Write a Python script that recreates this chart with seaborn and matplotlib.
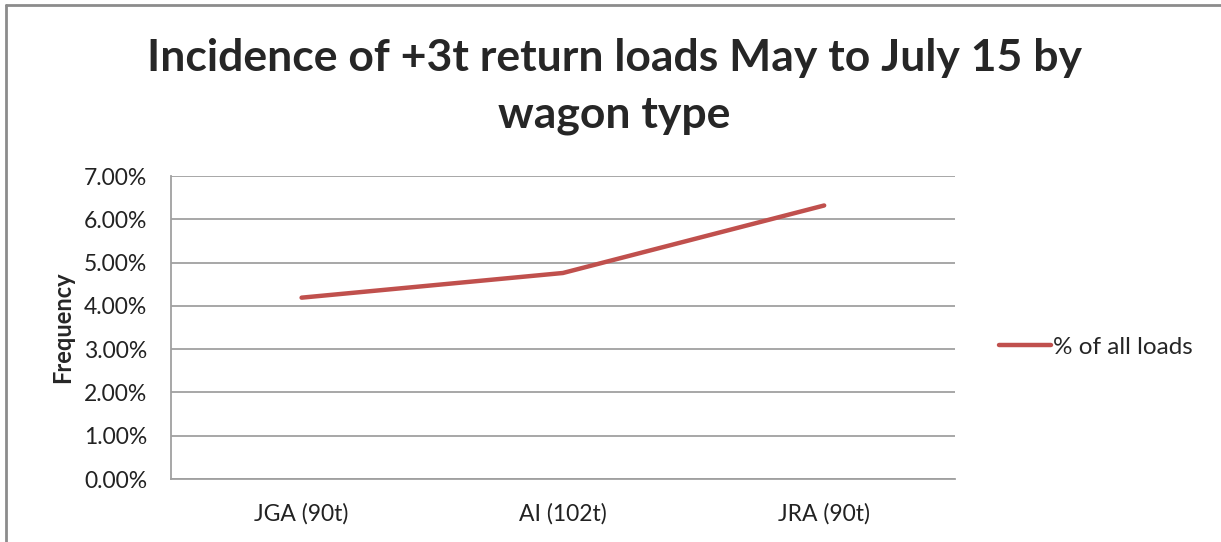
import pandas as pd
import seaborn as sns
import matplotlib.pyplot as plt
from matplotlib.ticker import PercentFormatter
from matplotlib.lines import Line2D

# Data
wagon_types = ['JGA (90t)', 'AI (102t)', 'JRA (90t)']
pct_all_loads = [0.0419, 0.0476, 0.0632]
y_ticks = [0.0, 0.01, 0.02, 0.03, 0.04, 0.05, 0.06, 0.07]

df = pd.DataFrame({'wagon': wagon_types, 'pct': pct_all_loads})

sns.set_style('white')
plt.rcParams['font.family'] = ['Lato', 'DejaVu Sans']

fig = plt.figure(figsize=(12.21, 5.42), dpi=100)
ax = fig.add_axes([0.140, 0.1162, 0.642, 0.559])

sns.lineplot(data=df, x='wagon', y='pct', color='#C0504D', lw=3.2,
             ax=ax, label='% of all loads', legend=False)

ax.set_xlim(-0.5, 2.5)
ax.set_ylim(0, 0.07)
ax.set_yticks(y_ticks)
ax.yaxis.set_major_formatter(PercentFormatter(1.0, decimals=2))
ax.grid(axis='y', color='#A0A0A0', lw=1.3)
ax.set_axisbelow(True)
for s in ['top', 'right']:
    ax.spines[s].set_visible(False)
for s in ['left', 'bottom']:
    ax.spines[s].set_color('#A0A0A0')
    ax.spines[s].set_linewidth(1.3)
ax.tick_params(axis='both', length=0, labelsize=16.5, colors='#222222')
ax.tick_params(axis='y', pad=17)
ax.tick_params(axis='x', pad=17, labelsize=16.5)
ax.set_xlabel('')
ax.set_ylabel('Frequency', fontsize=17, fontweight='bold', labelpad=7)

fig.suptitle('Incidence of +3t return loads May to July 15 by\nwagon type',
             x=0.503, y=0.93, fontsize=32, fontweight='bold', linespacing=1.5)

handle = Line2D([], [], color='#C0504D', lw=3.2)
fig.legend([handle], ['% of all loads'], loc='center left',
           bbox_to_anchor=(0.808, 0.359), frameon=False, fontsize=17.5,
           handlelength=2.15, handletextpad=0.1, borderpad=0)

# chart area border (top and left edge visible)
fig.add_artist(Line2D([0.005, 0.005], [0, 0.991], color='#8C8C8C', lw=2,
                      transform=fig.transFigure))
fig.add_artist(Line2D([0.005, 1], [0.991, 0.991], color='#8C8C8C', lw=2,
                      transform=fig.transFigure))

fig.savefig('out.png', dpi=100)
